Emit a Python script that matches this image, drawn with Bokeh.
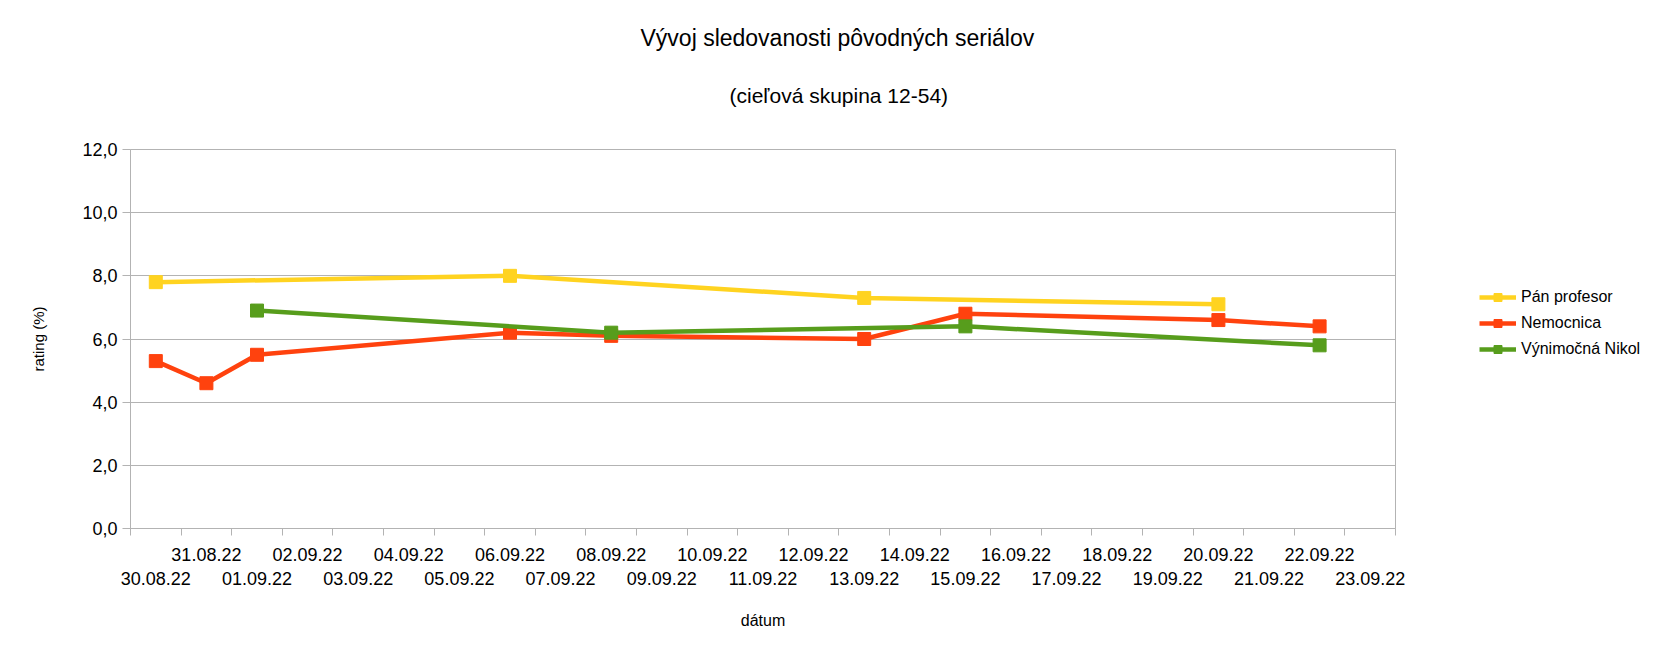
import pandas as pd
from bokeh.plotting import figure
from bokeh.layouts import row
from bokeh.models import (FixedTicker, Legend, LegendItem, Title, Range1d)
from bokeh.embed import file_html
from bokeh.resources import INLINE

# ---- data ----
start_date = "2022-08-30"
n_days = 25

pan_dates = ["2022-08-30", "2022-09-06", "2022-09-13", "2022-09-20"]
pan_values = [7.8, 8.0, 7.3, 7.1]

nem_dates = ["2022-08-30", "2022-08-31", "2022-09-01", "2022-09-06", "2022-09-08",
             "2022-09-13", "2022-09-15", "2022-09-20", "2022-09-22"]
nem_values = [5.3, 4.6, 5.5, 6.2, 6.1, 6.0, 6.8, 6.6, 6.4]

nik_dates = ["2022-09-01", "2022-09-08", "2022-09-15", "2022-09-22"]
nik_values = [6.9, 6.2, 6.4, 5.8]

y_ticks = [0, 2, 4, 6, 8, 10, 12]
y_tick_labels = ["0,0", "2,0", "4,0", "6,0", "8,0", "10,0", "12,0"]

series_names = ["Pán profesor", "Nemocnica", "Výnimočná Nikol"]
series_colors = ["#FFD320", "#FF420E", "#579D1C"]

t0 = pd.Timestamp(start_date)
def to_x(dates):
    return [(pd.Timestamp(d) - t0).days + 0.5 for d in dates]

all_days = [t0 + pd.Timedelta(days=i) for i in range(n_days)]
centers = [i + 0.5 for i in range(n_days)]
labels = {}
for i, d in enumerate(all_days):
    s = d.strftime("%d.%m.%y")
    labels[centers[i]] = s if i % 2 == 1 else "\n" + s

FONT = "Liberation Sans"
MAIN_W = 1420
LEG_W = 1674 - MAIN_W

p = figure(width=MAIN_W, height=649, output_backend="svg", toolbar_location=None,
           title=None, x_range=Range1d(0, n_days), y_range=Range1d(0, 12),
           min_border_left=130, min_border_right=MAIN_W - 1395, min_border_top=149,
           min_border_bottom=121)
p.background_fill_color = "white"
p.border_fill_color = "white"
p.outline_line_color = "#b3b3b3"
p.outline_line_width = 1

# titles: first added is closest to frame
sub = Title(text="(cieľová skupina 12-54)", align="left", text_font=FONT,
            text_font_size="21px", text_font_style="normal", text_color="#000000",
            standoff=86, offset=599)
main = Title(text="Vývoj sledovanosti pôvodných seriálov", align="left", text_font=FONT,
             text_font_size="23px", text_font_style="normal", text_color="#000000",
             standoff=-24, offset=510)
p.add_layout(sub, "above")
p.add_layout(main, "above")

# x axis
xa = p.xaxis[0]
xa.ticker = FixedTicker(ticks=centers, minor_ticks=list(range(0, n_days + 1)))
xa.major_label_overrides = labels
xa.major_tick_line_color = None
xa.major_tick_out = 0
xa.major_tick_in = 0
xa.minor_tick_out = 7
xa.minor_tick_in = 0
xa.minor_tick_line_color = "#b3b3b3"
xa.axis_line_color = "#b3b3b3"
xa.major_label_text_font = FONT
xa.major_label_text_font_size = "18px"
xa.major_label_text_color = "#000000"
xa.major_label_standoff = 9
xa.axis_label = "dátum"
xa.axis_label_text_font = FONT
xa.axis_label_text_font_size = "16px"
xa.axis_label_text_font_style = "normal"
xa.axis_label_text_color = "#000000"
xa.axis_label_standoff = 20

# y axis
ya = p.yaxis[0]
ya.ticker = FixedTicker(ticks=y_ticks, minor_ticks=[])
ya.major_label_overrides = {t: l for t, l in zip(y_ticks, y_tick_labels)}
ya.major_tick_out = 8
ya.major_tick_in = 0
ya.major_tick_line_color = "#b3b3b3"
ya.minor_tick_line_color = None
ya.axis_line_color = "#b3b3b3"
ya.major_label_text_font = FONT
ya.major_label_text_font_size = "18px"
ya.major_label_text_color = "#000000"
ya.major_label_standoff = 5
ya.axis_label = "rating (%)"
ya.axis_label_text_font = FONT
ya.axis_label_text_font_size = "15px"
ya.axis_label_text_font_style = "normal"
ya.axis_label_text_color = "#000000"
ya.axis_label_standoff = 32

p.xgrid.grid_line_color = None
p.ygrid.grid_line_color = "#b3b3b3"
p.ygrid.grid_line_width = 1

# legend panel (separate figure so the legend can sit outside the main plot area)
q = figure(width=LEG_W, height=649, output_backend="svg", toolbar_location=None,
           title=None, x_axis_location=None, y_axis_location=None,
           x_range=Range1d(0, n_days), y_range=Range1d(0, 12),
           min_border_left=0, min_border_right=0, min_border_top=0, min_border_bottom=0)
q.outline_line_color = None
q.xgrid.grid_line_color = None
q.ygrid.grid_line_color = None
q.background_fill_color = "white"
q.border_fill_color = "white"

items = []
for name, dates, vals, col in zip(series_names, [pan_dates, nem_dates, nik_dates],
                                  [pan_values, nem_values, nik_values], series_colors):
    xs = to_x(dates)
    p.line(xs, vals, line_color=col, line_width=4.5)
    p.scatter(xs, vals, marker="square", size=13, fill_color=col, line_color=col)
    # hidden legend proxies carrying the same series and styling
    l1 = q.line(xs, vals, line_color=col, line_width=4.5, visible=False)
    l2 = q.scatter(xs, vals, marker="square", size=13, fill_color=col, line_color=col,
                   visible=False)
    items.append(LegendItem(label=name, renderers=[l1, l2]))

legend = Legend(items=items, location=(1479 - MAIN_W, 169), orientation="vertical",
                label_text_font=FONT, label_text_font_size="16px", label_text_color="#000000",
                glyph_width=37, glyph_height=20, label_height=20, label_standoff=5, spacing=6,
                padding=0, margin=0, border_line_color=None, background_fill_alpha=0,
                click_policy="none")
q.add_layout(legend, "center")

layout = row(p, q, spacing=0)
open("out.html", "w").write(file_html(layout, INLINE))
